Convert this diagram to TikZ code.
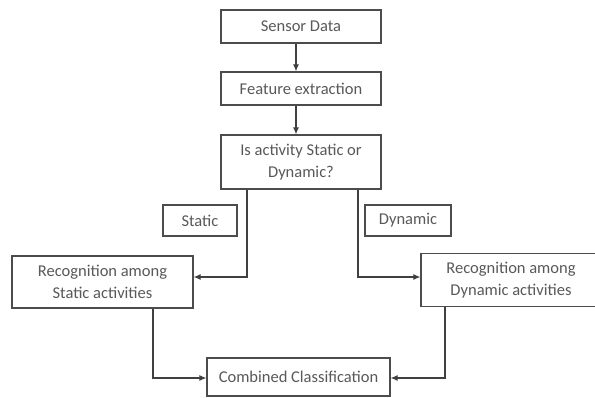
\documentclass[tikz,border=0pt]{standalone}
\usepackage{fontspec}
\setmainfont{Carlito}
\usetikzlibrary{arrows.meta,calc}
\begin{document}
\begin{tikzpicture}[x=1pt,y=-1pt,
  box/.style={draw=black!70, line width=1.2pt, fill=white, text=black!65,
    inner sep=0pt, align=center, font=\fontsize{16.5}{22.5}\selectfont},
  flow/.style={draw=black!75, line width=1.1pt, -{Latex[length=7pt,width=6pt]}}]
  \useasboundingbox (0,0) rectangle (595,398);

  % main chain
  \node[box, minimum width=160pt, minimum height=33pt] (sensor) at (301,26.5) {Sensor Data};
  \node[box, minimum width=160pt, minimum height=33pt] (feat) at (301,88.5) {Feature extraction};
  \node[box, minimum width=160pt, minimum height=54pt] (is) at (301,162) {Is activity Static or\\Dynamic?};

  % branch labels
  \node[box, minimum width=74pt, minimum height=31pt] (lstatic) at (200,220.5) {Static};
  \node[box, minimum width=86pt, minimum height=31pt] (ldyn) at (408,220.5) {Dynamic};

  % recognisers
  \node[box, minimum width=181pt, minimum height=52pt] (srec) at (102.5,282) {Recognition among\\Static activities};
  \node[box, minimum width=180pt, minimum height=53pt] (drec) at (511,280) {Recognition among\\Dynamic activities};

  % fusion
  \node[box, minimum width=183pt, minimum height=38pt] (comb) at (298.5,377) {Combined Classification};

  % connectors
  \draw[flow] ([xshift=-5pt]sensor.south) -- ([xshift=-5pt]feat.north);
  \draw[flow] ([xshift=-5pt]feat.south) -- ([xshift=-5pt]is.north);
  \draw[flow] ([xshift=-54pt]is.south) |- ([yshift=5pt]srec.east);
  \draw[flow] ([xshift=57pt]is.south) |- ([yshift=3pt]drec.west);
  \draw[flow] ([xshift=50.5pt]srec.south) |- ([yshift=-1pt]comb.west);
  \draw[flow] ([xshift=-66pt]drec.south) |- ([yshift=-1pt]comb.east);
\end{tikzpicture}
\end{document}
